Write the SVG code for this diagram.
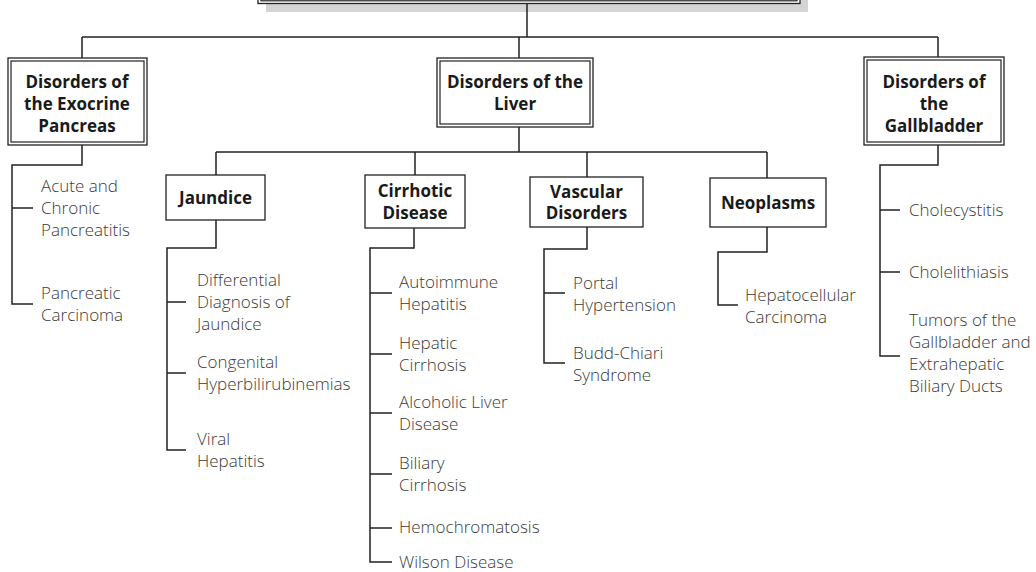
<svg xmlns="http://www.w3.org/2000/svg" width="1036" height="572" viewBox="0 0 1036 572">
  <style>
    .bg { fill: #ffffff; }
    .shadow { fill: #d4d4d4; stroke: none; }
    .box { fill: #ffffff; stroke: #222222; stroke-width: 1.3; }
    .inner { fill: none; stroke: #222222; stroke-width: 1.2; }
    .wire { fill: none; stroke: #222222; stroke-width: 1.5; }
    .head { font-family: "Open Sans", "Noto Sans", "Liberation Sans", sans-serif; font-weight: 700; font-size: 17px; fill: #1a1a1a; text-anchor: middle; }
    .item { font-family: "Open Sans", "Noto Sans", "Liberation Sans", sans-serif; font-weight: 300; font-size: 17px; fill: #3a3a3a; }
  </style>

  <rect class="bg" x="0" y="0" width="1036" height="572"/>

  <!-- root box, mostly above the top edge, with its grey drop shadow -->
  <g id="root">
    <rect class="shadow" x="266" y="-40" width="542" height="52"/>
    <rect class="box" x="258" y="-40" width="542" height="43.5"/>
    <rect class="inner" x="261" y="-40" width="536" height="40.8"/>
  </g>

  <g id="connectors">
    <path class="wire" d="M527,3.5 V37"/>
    <path class="wire" d="M82,37 H938"/>
    <path class="wire" d="M82,37 V58 M519,37 V58 M938,37 V57"/>

    <!-- exocrine pancreas -->
    <path class="wire" d="M82,145 V165 H12 V304 H33 M12,208 H33"/>

    <!-- liver branches -->
    <path class="wire" d="M519,127 V152 M216,152 H767 M216,152 V175 M415,152 V175 M587,152 V177 M767,152 V178"/>
    <path class="wire" d="M216,220 V248 H167 V450 H186 M167,302 H186 M167,373 H186"/>
    <path class="wire" d="M414,228 V248 H370 V562 H392 M370,293 H392 M370,354 H392 M370,413 H392 M370,474 H392 M370,528 H392"/>
    <path class="wire" d="M587,227 V249 H544 V363 H565 M544,293 H565"/>
    <path class="wire" d="M767,227 V252 H718 V305 H738"/>

    <!-- gallbladder -->
    <path class="wire" d="M938,145 V165 H880 V356 H900 M880,210 H900 M880,272 H900"/>
  </g>

  <g id="exocrine">
    <rect class="box" x="8" y="58" width="139" height="87"/>
    <rect class="inner" x="11" y="61" width="133" height="81"/>
    <text class="head" x="77" y="88">Disorders of</text>
    <text class="head" x="77" y="110">the Exocrine</text>
    <text class="head" x="77" y="132">Pancreas</text>
  </g>

  <g id="liver">
    <rect class="box" x="437" y="58" width="156" height="69"/>
    <rect class="inner" x="440" y="61" width="150" height="63"/>
    <text class="head" x="515" y="88">Disorders of the</text>
    <text class="head" x="515" y="110">Liver</text>
  </g>

  <g id="gallbladder">
    <rect class="box" x="864" y="57" width="140" height="88"/>
    <rect class="inner" x="867" y="60" width="134" height="82"/>
    <text class="head" x="934" y="88">Disorders of</text>
    <text class="head" x="934" y="110">the</text>
    <text class="head" x="934" y="132">Gallbladder</text>
  </g>

  <g id="jaundice">
    <rect class="box" x="166" y="175" width="99" height="45"/>
    <text class="head" x="215.5" y="204">Jaundice</text>
  </g>

  <g id="cirrhotic">
    <rect class="box" x="365" y="175" width="100" height="53"/>
    <text class="head" x="415" y="197">Cirrhotic</text>
    <text class="head" x="415" y="219">Disease</text>
  </g>

  <g id="vascular">
    <rect class="box" x="530" y="177" width="113" height="50"/>
    <text class="head" x="586.5" y="198">Vascular</text>
    <text class="head" x="586.5" y="219">Disorders</text>
  </g>

  <g id="neoplasms">
    <rect class="box" x="710" y="178" width="116" height="49"/>
    <text class="head" x="768" y="208.5">Neoplasms</text>
  </g>

  <g id="exocrine-items">
    <text class="item" x="41" y="192">Acute and</text>
    <text class="item" x="41" y="214">Chronic</text>
    <text class="item" x="41" y="236">Pancreatitis</text>
    <text class="item" x="41" y="299">Pancreatic</text>
    <text class="item" x="41" y="321">Carcinoma</text>
  </g>

  <g id="jaundice-items">
    <text class="item" x="197" y="286">Differential</text>
    <text class="item" x="197" y="308">Diagnosis of</text>
    <text class="item" x="197" y="330">Jaundice</text>
    <text class="item" x="197" y="368">Congenital</text>
    <text class="item" x="197" y="390">Hyperbilirubinemias</text>
    <text class="item" x="197" y="445">Viral</text>
    <text class="item" x="197" y="467">Hepatitis</text>
  </g>

  <g id="cirrhotic-items">
    <text class="item" x="399" y="288">Autoimmune</text>
    <text class="item" x="399" y="310">Hepatitis</text>
    <text class="item" x="399" y="349">Hepatic</text>
    <text class="item" x="399" y="371">Cirrhosis</text>
    <text class="item" x="399" y="408">Alcoholic Liver</text>
    <text class="item" x="399" y="430">Disease</text>
    <text class="item" x="399" y="469">Biliary</text>
    <text class="item" x="399" y="491">Cirrhosis</text>
    <text class="item" x="399" y="533">Hemochromatosis</text>
    <text class="item" x="399" y="568">Wilson Disease</text>
  </g>

  <g id="vascular-items">
    <text class="item" x="573" y="289">Portal</text>
    <text class="item" x="573" y="311">Hypertension</text>
    <text class="item" x="573" y="359">Budd-Chiari</text>
    <text class="item" x="573" y="381">Syndrome</text>
  </g>

  <g id="neoplasm-items">
    <text class="item" x="745" y="301">Hepatocellular</text>
    <text class="item" x="745" y="323">Carcinoma</text>
  </g>

  <g id="gallbladder-items">
    <text class="item" x="909" y="216">Cholecystitis</text>
    <text class="item" x="909" y="278">Cholelithiasis</text>
    <text class="item" x="909" y="326">Tumors of the</text>
    <text class="item" x="909" y="348">Gallbladder and</text>
    <text class="item" x="909" y="370">Extrahepatic</text>
    <text class="item" x="909" y="392">Biliary Ducts</text>
  </g>
</svg>
